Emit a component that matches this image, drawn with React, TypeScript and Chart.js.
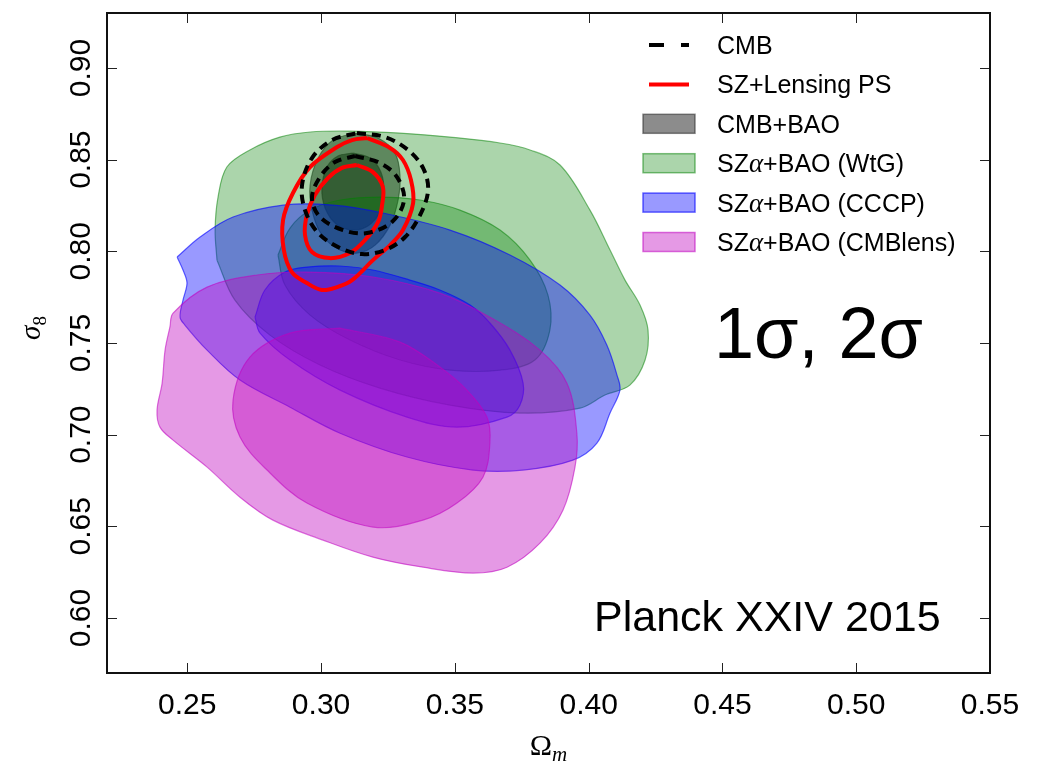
import { useEffect, useRef } from 'react';
import { Chart, registerables } from 'chart.js';

Chart.register(...registerables);

type Pt = [number, number];

// Axis ticks
const xTicks = [0.25, 0.3, 0.35, 0.4, 0.45, 0.5, 0.55];
const yTicks = [0.6, 0.65, 0.7, 0.75, 0.8, 0.85, 0.9];

// Legend entries (top to bottom)
const legendLabels = [
  'CMB',
  'SZ+Lensing PS',
  'CMB+BAO',
  'SZα+BAO (WtG)',
  'SZα+BAO (CCCP)',
  'SZα+BAO (CMBlens)',
];

// CMB (dashed) 2σ / 1σ contours  [Ωm, σ8]
const cmbOuter: Pt[] = [
  [0.3134, 0.8645], [0.3239, 0.8623], [0.3325, 0.8553], [0.3381, 0.8455], [0.34, 0.8334],
  [0.337, 0.8198], [0.3314, 0.8078], [0.3239, 0.8007], [0.3153, 0.7985], [0.3071, 0.8018],
  [0.2989, 0.81], [0.294, 0.8225], [0.2929, 0.8362], [0.2966, 0.8509], [0.3041, 0.8607],
];
const cmbInner: Pt[] = [
  [0.3127, 0.852], [0.322, 0.8482], [0.3284, 0.8405], [0.331, 0.828], [0.3265, 0.816],
  [0.3172, 0.81], [0.3082, 0.8116], [0.2996, 0.8187], [0.2966, 0.8291], [0.2996, 0.8405],
  [0.3052, 0.8487],
];

// SZ + Lensing PS 2σ / 1σ contours
const szOuter: Pt[] = [
  [0.3172, 0.8618], [0.3258, 0.8564], [0.3306, 0.8498], [0.3336, 0.8389], [0.3344, 0.8263],
  [0.3306, 0.8116], [0.3258, 0.8034], [0.3194, 0.7952], [0.3116, 0.7843], [0.306, 0.7805],
  [0.3003, 0.7789], [0.2947, 0.7827], [0.2891, 0.7887], [0.2861, 0.8007], [0.2858, 0.8171],
  [0.2895, 0.8318], [0.2959, 0.846], [0.306, 0.8569], [0.3116, 0.8607],
];
const szInner: Pt[] = [
  [0.3134, 0.8471], [0.3194, 0.8432], [0.3231, 0.8351], [0.3228, 0.8252], [0.3213, 0.816],
  [0.3164, 0.8061], [0.3108, 0.7991], [0.3033, 0.7963], [0.2966, 0.7996], [0.294, 0.8089],
  [0.2947, 0.8198], [0.2977, 0.8307], [0.3026, 0.84], [0.3078, 0.8455],
];

// CMB+BAO 2σ / 1σ
const baoOuter: Pt[] = [
  [0.3127, 0.8645], [0.3213, 0.8618], [0.3276, 0.8536], [0.3295, 0.8416], [0.3288, 0.828],
  [0.3258, 0.8143], [0.3202, 0.8034], [0.3138, 0.7991], [0.3071, 0.8007], [0.3003, 0.8089],
  [0.2966, 0.8225], [0.2959, 0.8362], [0.2989, 0.8509], [0.3045, 0.8607],
];
const baoInner: Pt[] = [
  [0.3119, 0.8536], [0.3183, 0.8509], [0.3224, 0.8432], [0.3235, 0.8323], [0.322, 0.8214],
  [0.3175, 0.8138], [0.3116, 0.8116], [0.3056, 0.8149], [0.3015, 0.8236], [0.3003, 0.8345],
  [0.3022, 0.846], [0.3063, 0.852],
];

// SZα+BAO (WtG) 2σ / 1σ
const wtgOuter: Pt[] = [
  [0.2611, 0.7952], [0.2604, 0.8116], [0.2615, 0.8296], [0.2648, 0.846], [0.2734, 0.8553],
  [0.2846, 0.8623], [0.2959, 0.8651], [0.3108, 0.8656], [0.3295, 0.8645], [0.3482, 0.8623],
  [0.3669, 0.8591], [0.3781, 0.8553], [0.3893, 0.8471], [0.4005, 0.8225], [0.408, 0.8007],
  [0.4136, 0.7843], [0.4192, 0.7707], [0.4222, 0.757], [0.4211, 0.7407], [0.4154, 0.727],
  [0.4061, 0.7216], [0.3968, 0.7145], [0.3743, 0.7118], [0.3482, 0.7161], [0.322, 0.7254],
  [0.2996, 0.738], [0.2809, 0.7543], [0.2678, 0.7734],
];
const wtgInner: Pt[] = [
  [0.2839, 0.798], [0.2884, 0.8127], [0.2959, 0.8225], [0.3071, 0.828], [0.322, 0.8296],
  [0.337, 0.828], [0.3519, 0.8225], [0.3669, 0.8116], [0.3781, 0.7952], [0.3848, 0.7761],
  [0.3855, 0.757], [0.3799, 0.7407], [0.3669, 0.7352], [0.3482, 0.7352], [0.3295, 0.7407],
  [0.3108, 0.7516], [0.2959, 0.7652], [0.2865, 0.7816],
];

// SZα+BAO (CCCP) 2σ / 1σ
const cccpOuter: Pt[] = [
  [0.2462, 0.7969], [0.2548, 0.8078], [0.2671, 0.8187], [0.2858, 0.8252], [0.3045, 0.8252],
  [0.3231, 0.8209], [0.3482, 0.8116], [0.3706, 0.798], [0.3893, 0.7816], [0.4005, 0.7652],
  [0.4068, 0.7489], [0.4106, 0.7325], [0.4117, 0.7243], [0.408, 0.7118], [0.4031, 0.6954],
  [0.3941, 0.6861], [0.3755, 0.6807], [0.3568, 0.6807], [0.3321, 0.6878], [0.3071, 0.7008],
  [0.2884, 0.715], [0.2697, 0.7298], [0.2574, 0.7461], [0.2491, 0.7598], [0.2473, 0.7641],
  [0.2484, 0.7734], [0.2499, 0.7827], [0.2484, 0.7898],
];
const cccpInner: Pt[] = [
  [0.2753, 0.7641], [0.279, 0.7789], [0.2865, 0.7887], [0.2947, 0.7914], [0.3071, 0.792],
  [0.3194, 0.7898], [0.3332, 0.7843], [0.3444, 0.7789], [0.3557, 0.7707], [0.3631, 0.7609],
  [0.3706, 0.7461], [0.3755, 0.7281], [0.3743, 0.7161], [0.3695, 0.7096], [0.3508, 0.7041],
  [0.3321, 0.7096], [0.3071, 0.7243], [0.2884, 0.7407], [0.2772, 0.7554],
];

// SZα+BAO (CMBlens) 2σ / 1σ
const lensOuter: Pt[] = [
  [0.2435, 0.7587], [0.2447, 0.7663], [0.2574, 0.7805], [0.2761, 0.7871], [0.2947, 0.7887],
  [0.3194, 0.786], [0.3444, 0.7772], [0.3631, 0.7641], [0.3818, 0.7461], [0.3919, 0.7281],
  [0.3956, 0.7008], [0.3949, 0.6823], [0.3904, 0.6588], [0.3818, 0.6408], [0.3695, 0.6277],
  [0.3568, 0.6245], [0.3381, 0.6277], [0.3194, 0.6332], [0.3007, 0.6425], [0.282, 0.6534],
  [0.2697, 0.6659], [0.2574, 0.6823], [0.2447, 0.697], [0.2398, 0.7041], [0.2387, 0.7134],
  [0.2406, 0.7281], [0.2417, 0.7461],
];
const lensInner: Pt[] = [
  [0.3071, 0.7581], [0.3295, 0.7505], [0.3444, 0.7369], [0.3545, 0.7243], [0.362, 0.7096],
  [0.3631, 0.6954], [0.3605, 0.6768], [0.3508, 0.6627], [0.3381, 0.6534], [0.3194, 0.6496],
  [0.2947, 0.6627], [0.2798, 0.6807], [0.2697, 0.6987], [0.2671, 0.7189], [0.2734, 0.7423],
  [0.2884, 0.7554],
];

const SANS = "'Liberation Sans', Arial, Helvetica, sans-serif";
const SERIF = "'Liberation Serif', 'DejaVu Serif', serif";

type Style = { fill: string | null; edge: string; width: number; dash: number[]; legendDash?: number[] };

const styles: Record<string, Style> = {
  CMB: { fill: null, edge: '#000000', width: 4, dash: [9, 6], legendDash: [15, 17] },
  'SZ+Lensing PS': { fill: null, edge: '#ff0000', width: 4, dash: [] },
  'CMB+BAO': { fill: 'rgba(0,0,0,0.45)', edge: 'rgba(40,40,40,0.55)', width: 1.2, dash: [] },
  'SZα+BAO (WtG)': { fill: 'rgba(0,128,0,0.33)', edge: 'rgba(0,128,0,0.5)', width: 1.2, dash: [] },
  'SZα+BAO (CCCP)': { fill: 'rgba(0,0,255,0.4)', edge: 'rgba(0,0,255,0.6)', width: 1.2, dash: [] },
  'SZα+BAO (CMBlens)': { fill: 'rgba(191,0,191,0.4)', edge: 'rgba(191,0,191,0.55)', width: 1.2, dash: [] },
};

function contour(label: string, pts: Pt[]) {
  const s = styles[label];
  const closed = [...pts, pts[0]];
  return {
    label,
    data: closed.map(([x, y]) => ({ x, y })),
    fill: s.fill ? 'shape' : false,
    backgroundColor: s.fill ?? 'rgba(0,0,0,0)',
    borderColor: s.edge,
    borderWidth: s.width,
    borderDash: s.dash,
    borderCapStyle: 'butt',
    borderJoinStyle: 'round',
    tension: 0.35,
    pointRadius: 0,
    pointHoverRadius: 0,
  };
}

function drawMixed(ctx: CanvasRenderingContext2D, text: string, x: number, y: number, size: number) {
  const parts = text.split('α');
  let cx = x;
  parts.forEach((p, i) => {
    if (i > 0) {
      ctx.font = `italic ${size + 2}px ${SERIF}`;
      ctx.fillText('α', cx, y);
      cx += ctx.measureText('α').width;
    }
    ctx.font = `${size}px ${SANS}`;
    ctx.fillText(p, cx, y);
    cx += ctx.measureText(p).width;
  });
}

const decor = {
  id: 'decor',
  afterDatasetsDraw(chart: any) {
    const { ctx, chartArea: a, scales } = chart;
    const xs = scales.x;
    const ys = scales.y;
    ctx.save();
    // inward tick marks on all four sides
    ctx.strokeStyle = '#222';
    ctx.lineWidth = 1;
    ctx.beginPath();
    for (const v of xTicks) {
      const px = Math.round(xs.getPixelForValue(v)) + 0.5;
      ctx.moveTo(px, a.bottom);
      ctx.lineTo(px, a.bottom - 10);
      ctx.moveTo(px, a.top);
      ctx.lineTo(px, a.top + 10);
    }
    for (const v of yTicks) {
      const py = Math.round(ys.getPixelForValue(v)) + 0.5;
      ctx.moveTo(a.left, py);
      ctx.lineTo(a.left + 10, py);
      ctx.moveTo(a.right, py);
      ctx.lineTo(a.right - 10, py);
    }
    ctx.stroke();
    // frame
    ctx.lineWidth = 2;
    ctx.strokeStyle = '#111';
    ctx.strokeRect(a.left, a.top, a.right - a.left, a.bottom - a.top);
    ctx.restore();
  },
  afterDraw(chart: any) {
    const { ctx, chartArea: a, scales } = chart;
    const ys = scales.y;
    ctx.save();
    ctx.fillStyle = '#000';

    // y tick labels, rotated
    ctx.font = `30px ${SANS}`;
    ctx.textAlign = 'center';
    ctx.textBaseline = 'middle';
    for (const v of yTicks) {
      const py = ys.getPixelForValue(v);
      ctx.save();
      ctx.translate(82, py);
      ctx.rotate(-Math.PI / 2);
      ctx.fillText(v.toFixed(2), 0, 0);
      ctx.restore();
    }

    // axis titles
    ctx.textAlign = 'left';
    ctx.textBaseline = 'alphabetic';
    {
      const cx = (a.left + a.right) / 2;
      ctx.font = `30px ${SERIF}`;
      const wO = ctx.measureText('Ω').width;
      ctx.font = `italic 21px ${SERIF}`;
      const wm = ctx.measureText('m').width;
      const x0 = cx - (wO + wm) / 2;
      ctx.font = `30px ${SERIF}`;
      ctx.fillText('Ω', x0, 755);
      ctx.font = `italic 21px ${SERIF}`;
      ctx.fillText('m', x0 + wO, 761);
    }
    {
      ctx.save();
      ctx.translate(40, 328);
      ctx.rotate(-Math.PI / 2);
      ctx.font = `italic 29px ${SERIF}`;
      const ws = ctx.measureText('σ').width;
      ctx.font = `19px ${SERIF}`;
      const w8 = ctx.measureText('8').width;
      const x0 = -(ws + w8) / 2;
      ctx.font = `italic 29px ${SERIF}`;
      ctx.fillText('σ', x0, 0);
      ctx.font = `19px ${SERIF}`;
      ctx.fillText('8', x0 + ws, 6);
      ctx.restore();
    }

    // legend
    const datasets = chart.data.datasets;
    legendLabels.forEach((label, i) => {
      const ds = datasets.find((d: any) => d.label === label);
      const s = styles[label];
      const cy = 45 + i * 39.4;
      if (ds && s.fill) {
        ctx.fillStyle = s.fill;
        ctx.fillRect(643, cy - 9.5, 52, 19);
        ctx.strokeStyle = s.edge;
        ctx.lineWidth = 1.5;
        ctx.strokeRect(643, cy - 9.5, 52, 19);
      } else {
        ctx.strokeStyle = s.edge;
        ctx.lineWidth = s.width;
        ctx.lineCap = 'butt';
        ctx.setLineDash(s.legendDash ?? []);
        ctx.beginPath();
        ctx.moveTo(649, cy);
        ctx.lineTo(689, cy);
        ctx.stroke();
        ctx.setLineDash([]);
      }
      ctx.fillStyle = '#000';
      drawMixed(ctx, label, 717, cy + 9, 25);
    });

    // annotations
    ctx.fillStyle = '#000';
    ctx.font = `72px ${SANS}`;
    ctx.fillText('1σ, 2σ', 714, 358);
    ctx.font = `43px ${SANS}`;
    ctx.fillText('Planck XXIV 2015', 594, 631);
    ctx.restore();
  },
};

export default function App() {
  const ref = useRef<HTMLCanvasElement | null>(null);

  useEffect(() => {
    if (!ref.current) return;
    const datasets = [
      contour('CMB', cmbOuter),
      contour('CMB', cmbInner),
      contour('SZ+Lensing PS', szOuter),
      contour('SZ+Lensing PS', szInner),
      contour('SZα+BAO (CMBlens)', lensInner),
      contour('SZα+BAO (CMBlens)', lensOuter),
      contour('SZα+BAO (CCCP)', cccpInner),
      contour('SZα+BAO (CCCP)', cccpOuter),
      contour('SZα+BAO (WtG)', wtgInner),
      contour('SZα+BAO (WtG)', wtgOuter),
      contour('CMB+BAO', baoInner),
      contour('CMB+BAO', baoOuter),
    ];
    const chart = new Chart(ref.current, {
      type: 'line',
      data: { datasets: datasets as any },
      options: {
        responsive: false,
        animation: false,
        events: [],
        layout: { padding: { top: 13, right: 47, left: 0, bottom: 0 } },
        plugins: { legend: { display: false }, tooltip: { enabled: false } },
        scales: {
          x: {
            type: 'linear',
            min: 0.22,
            max: 0.55,
            grid: { display: false, drawTicks: false },
            border: { display: false },
            ticks: {
              font: { family: SANS, size: 30 },
              color: '#000',
              padding: 15,
              maxRotation: 0,
              autoSkip: false,
              callback: (v: any) => Number(v).toFixed(2),
            },
            afterBuildTicks: (s: any) => {
              s.ticks = xTicks.map((value) => ({ value }));
            },
            afterFit: (s: any) => {
              s.height = 93;
            },
          },
          y: {
            type: 'linear',
            min: 0.57,
            max: 0.93,
            grid: { display: false, drawTicks: false },
            border: { display: false },
            ticks: { display: false },
            afterBuildTicks: (s: any) => {
              s.ticks = yTicks.map((value) => ({ value }));
            },
            afterFit: (s: any) => {
              s.width = 107;
            },
          },
        },
      },
      plugins: [decor],
    });
    return () => chart.destroy();
  }, []);

  return (
    <div style={{ position: 'fixed', left: 0, top: 0, width: 1037, height: 766, background: '#fff' }}>
      <canvas ref={ref} width={1037} height={766} style={{ display: 'block' }} />
    </div>
  );
}
